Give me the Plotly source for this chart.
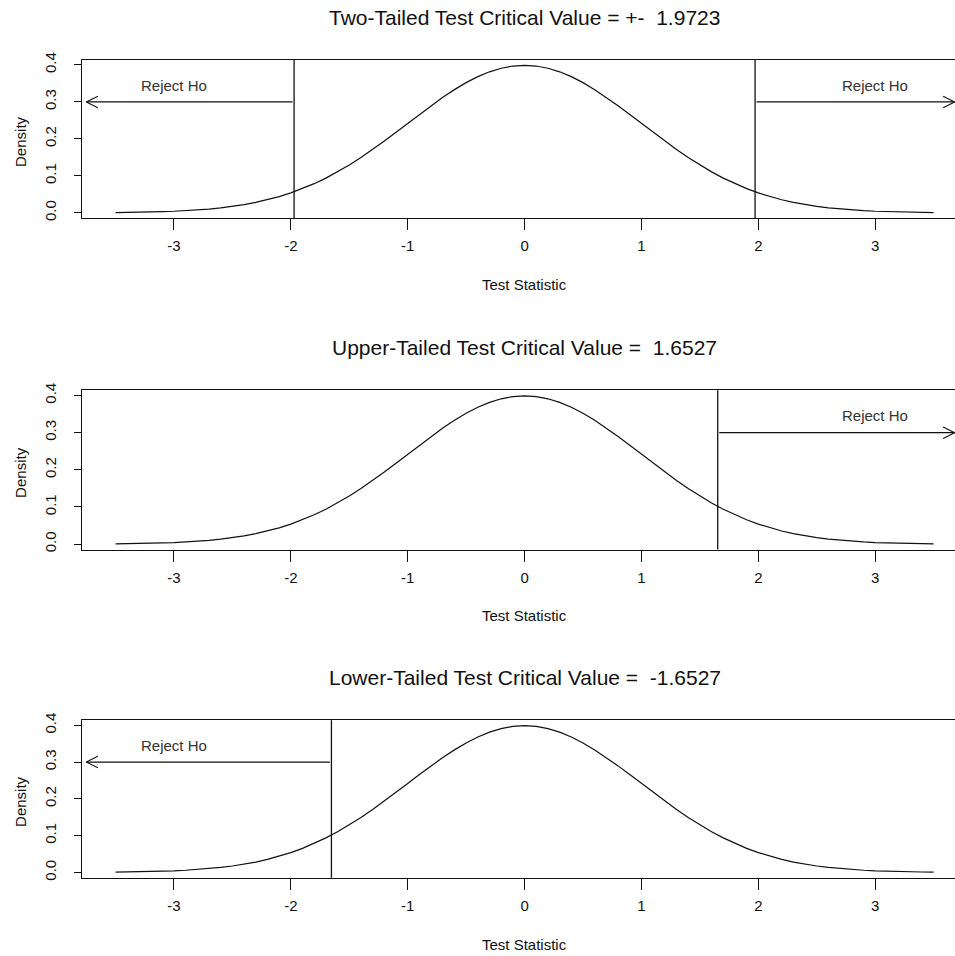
import plotly.graph_objects as go

# ---------------- data ----------------
x_stat = [-3.5, -3.4, -3.3, -3.2, -3.1, -3.0, -2.9, -2.8, -2.7, -2.6, -2.5, -2.4, -2.3, -2.2, -2.1,
          -2.0, -1.9, -1.8, -1.7, -1.6, -1.5, -1.4, -1.3, -1.2, -1.1, -1.0, -0.9, -0.8, -0.7, -0.6,
          -0.5, -0.4, -0.3, -0.2, -0.1, 0.0, 0.1, 0.2, 0.3, 0.4, 0.5, 0.6, 0.7, 0.8, 0.9, 1.0, 1.1,
          1.2, 1.3, 1.4, 1.5, 1.6, 1.7, 1.8, 1.9, 2.0, 2.1, 2.2, 2.3, 2.4, 2.5, 2.6, 2.7, 2.8, 2.9,
          3.0, 3.1, 3.2, 3.3, 3.4, 3.5]
density = [0.0009, 0.0012, 0.0017, 0.0024, 0.0033, 0.0044, 0.0060, 0.0079, 0.0104, 0.0136, 0.0175,
           0.0224, 0.0283, 0.0355, 0.0440, 0.0540, 0.0656, 0.0790, 0.0940, 0.1109, 0.1295, 0.1497,
           0.1714, 0.1942, 0.2179, 0.2420, 0.2661, 0.2897, 0.3123, 0.3332, 0.3521, 0.3683, 0.3814,
           0.3910, 0.3970, 0.3989, 0.3970, 0.3910, 0.3814, 0.3683, 0.3521, 0.3332, 0.3123, 0.2897,
           0.2661, 0.2420, 0.2179, 0.1942, 0.1714, 0.1497, 0.1295, 0.1109, 0.0940, 0.0790, 0.0656,
           0.0540, 0.0440, 0.0355, 0.0283, 0.0224, 0.0175, 0.0136, 0.0104, 0.0079, 0.0060, 0.0044,
           0.0033, 0.0024, 0.0017, 0.0012, 0.0009]

panel_titles = ["Two-Tailed Test Critical Value = +-\u00a0 1.9723",
                "Upper-Tailed Test Critical Value =\u00a0 1.6527",
                "Lower-Tailed Test Critical Value =\u00a0 -1.6527"]
crit_values = [[-1.9723, 1.9723], [1.6527], [-1.6527]]
arrow_tips = [[-3.75, 3.68], [3.68], [-3.75]]
reject_x = [[-3.0, 3.0], [3.0], [-3.0]]
reject_text = "Reject Ho"
arrow_y = 0.3
reject_y = 0.345

x_ticks = [-3, -2, -1, 0, 1, 2, 3]
x_tick_text = ["-3", "-2", "-1", "0", "1", "2", "3"]
y_ticks = [0.0, 0.1, 0.2, 0.3, 0.4]
y_tick_text = ["0.0", "0.1", "0.2", "0.3", "0.4"]
x_title = "Test Statistic"
y_title = "Density"

# ---------------- layout geometry (pixels) ----------------
W, H = 955, 956
box_left = 82
box_top = [53.3, 387.3, 720.7]
box_bottom = [213.5, 548.3, 880.0]
x_range = [-3.787, 3.683]
y_range = [-0.0145, 0.414]
FONT = "Liberation Sans, Arial, sans-serif"
INK = "#111111"
HEAD_LEN, HEAD_HALF = 13, 6.5   # open arrow head size in pixels

def fy(px):
    return 1 - px / H

def fx(px):
    return px / W

fig = go.Figure()
annotations = []
shapes = []

for i in range(3):
    n = i + 1
    xa = "x" if n == 1 else f"x{n}"
    ya = "y" if n == 1 else f"y{n}"
    fig.add_trace(go.Scatter(x=x_stat, y=density, mode="lines",
                             line=dict(color=INK, width=1.2),
                             xaxis=xa, yaxis=ya, showlegend=False, hoverinfo="skip"))

    xkey = "xaxis" if n == 1 else f"xaxis{n}"
    ykey = "yaxis" if n == 1 else f"yaxis{n}"
    fig.layout[xkey] = dict(
        domain=[fx(box_left), 1.0], range=x_range, anchor=ya,
        showgrid=False, zeroline=False, showline=True, mirror=True,
        linecolor=INK, linewidth=1.3,
        ticks="outside", ticklen=11, tickwidth=1.2, tickcolor=INK,
        tickvals=x_ticks, ticktext=x_tick_text, ticklabelstandoff=3,
        tickfont=dict(family=FONT, size=15, color=INK), fixedrange=True)
    fig.layout[ykey] = dict(
        domain=[fy(box_bottom[i]), fy(box_top[i])], range=y_range, anchor=xa,
        showgrid=False, zeroline=False, showline=True, mirror=False,
        linecolor=INK, linewidth=1.3,
        ticks="outside", ticklen=7, tickwidth=1.2, tickcolor=INK,
        tickvals=y_ticks, ticktext=y_tick_text, tickangle=-90, ticklabelstandoff=12,
        tickfont=dict(family=FONT, size=15, color=INK), fixedrange=True)

    # critical value lines
    for cv in crit_values[i]:
        shapes.append(dict(type="line", xref=xa, yref=f"{ya} domain",
                           x0=cv, x1=cv, y0=0, y1=1,
                           line=dict(color=INK, width=1.3)))
    # rejection arrows (shaft + open chevron head)
    for cv, tip in zip(crit_values[i], arrow_tips[i]):
        annotations.append(dict(x=tip, y=arrow_y, ax=cv, ay=arrow_y,
                                xref=xa, yref=ya, axref=xa, ayref=ya,
                                text="", showarrow=True, arrowhead=0,
                                arrowwidth=1.3, arrowcolor=INK, standoff=0, startstandoff=0))
        direction = 1 if tip < cv else -1
        for sgn in (-1, 1):
            annotations.append(dict(x=tip, y=arrow_y, xref=xa, yref=ya,
                                    ax=direction * HEAD_LEN, ay=sgn * HEAD_HALF,
                                    text="", showarrow=True, arrowhead=0,
                                    arrowwidth=1.1, arrowcolor=INK, standoff=0, startstandoff=0))
    for rx in reject_x[i]:
        annotations.append(dict(x=rx, y=reject_y, xref=xa, yref=ya, text=reject_text,
                                showarrow=False, xanchor="center", yanchor="middle",
                                font=dict(family=FONT, size=15, color="#333333")))

    # titles
    annotations.append(dict(x=fx(524.5), y=fy(box_top[i] - 43), xref="paper", yref="paper",
                            text=panel_titles[i], showarrow=False,
                            xanchor="center", yanchor="middle",
                            font=dict(family=FONT, size=21, color=INK)))
    annotations.append(dict(x=fx(524.5), y=fy(box_bottom[i] + 67), xref="paper", yref="paper",
                            text=x_title, showarrow=False,
                            xanchor="center", yanchor="middle",
                            font=dict(family=FONT, size=15, color=INK)))
    annotations.append(dict(x=fx(21), y=fy((box_top[i] + box_bottom[i]) / 2 + 3),
                            xref="paper", yref="paper",
                            text=y_title, showarrow=False, textangle=-90,
                            xanchor="center", yanchor="middle",
                            font=dict(family=FONT, size=15, color=INK)))

fig.update_layout(width=W, height=H, margin=dict(l=0, r=0, t=0, b=0),
                  paper_bgcolor="white", plot_bgcolor="white",
                  annotations=annotations, shapes=shapes, showlegend=False)

fig.write_html("out.html")
